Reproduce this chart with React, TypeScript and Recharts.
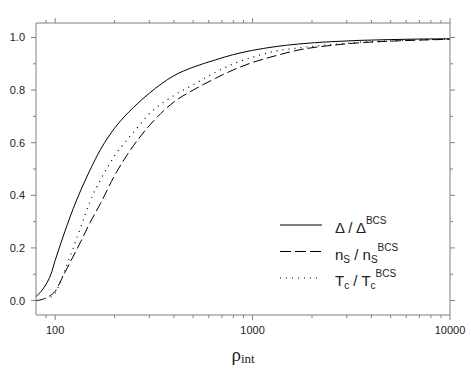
import { LineChart, Line, XAxis, YAxis, Legend, Label } from 'recharts';

const rho = [80, 85, 90, 95, 100, 110, 120, 135, 150, 170, 200, 250, 300, 400, 500, 650, 800, 1000, 1300, 1700, 2500, 3500, 5000, 7000, 10000];
const gap = [0.015, 0.035, 0.062, 0.098, 0.152, 0.245, 0.325, 0.42, 0.495, 0.575, 0.655, 0.735, 0.788, 0.855, 0.887, 0.915, 0.935, 0.951, 0.965, 0.975, 0.984, 0.989, 0.992, 0.994, 0.995];
const ns = [0.0, 0.003, 0.01, 0.02, 0.035, 0.095, 0.15, 0.225, 0.295, 0.37, 0.475, 0.59, 0.665, 0.755, 0.8, 0.845, 0.877, 0.905, 0.93, 0.952, 0.97, 0.98, 0.986, 0.99, 0.993];
const tc = [null, null, null, 0.012, 0.028, 0.1, 0.175, 0.28, 0.375, 0.46, 0.55, 0.64, 0.71, 0.78, 0.82, 0.868, 0.9, 0.925, 0.948, 0.96, 0.973, 0.982, 0.987, 0.991, 0.994];

const xTicks = [90, 100, 200, 300, 400, 500, 600, 700, 800, 900, 1000, 2000, 3000, 4000, 5000, 6000, 7000, 8000, 9000, 10000];
const xMajor = [100, 1000, 10000];
const yTicks = [0, 0.1, 0.2, 0.3, 0.4, 0.5, 0.6, 0.7, 0.8, 0.9, 1.0];

const data = rho.map((r, i) => ({ rho: r, gap: gap[i], ns: ns[i], tc: tc[i] }));

const AXIS = '#808080';
const TXT = '#222';
const SANS = '"Liberation Sans", Arial, sans-serif';

const isYMajor = (v: number) => Math.abs(v * 5 - Math.round(v * 5)) < 1e-6;

function XTick(props: any) {
  const { x, y, payload, dir, showLabel } = props;
  const major = xMajor.includes(payload.value);
  const len = major ? 5 : 3;
  return (
    <g>
      <line x1={x} x2={x} y1={y} y2={y + dir * len} stroke={AXIS} strokeWidth={1} />
      {showLabel && major && (
        <text x={x} y={y + 19} textAnchor="middle" fontSize={11} fontFamily={SANS} fill={TXT}>
          {payload.value}
        </text>
      )}
    </g>
  );
}

function YTick(props: any) {
  const { x, y, payload, dir, showLabel } = props;
  const major = isYMajor(payload.value);
  const len = major ? 5 : 3;
  return (
    <g>
      <line x1={x} x2={x + dir * len} y1={y} y2={y} stroke={AXIS} strokeWidth={1} />
      {showLabel && major && (
        <text x={x - 11} y={y + 4} textAnchor="end" fontSize={11} fontFamily={SANS} fill={TXT}>
          {payload.value.toFixed(1)}
        </text>
      )}
    </g>
  );
}

function XTitle(props: any) {
  const { viewBox } = props;
  const cx = viewBox.x + viewBox.width / 2;
  return (
    <text x={cx} y={361} textAnchor="middle" fontFamily='"Liberation Serif", "Times New Roman", serif' fill={TXT}>
      <tspan fontSize={19}>ρ</tspan>
      <tspan fontSize={13} dy={2}>int</tspan>
    </text>
  );
}

const legendRows = [
  { dash: undefined, main: 'Δ', sub: '' },
  { dash: '11 4', main: 'n', sub: 'S' },
  { dash: '1 5', main: 'T', sub: 'c' },
];

function LegendBox() {
  return (
    <svg width={170} height={90} style={{ overflow: 'visible' }}>
      {legendRows.map((r, i) => {
        const y = 13 + i * 26.5;
        return (
          <g key={i}>
            <line x1={0} x2={42} y1={y} y2={y} stroke="#000" strokeWidth={1} strokeDasharray={r.dash} />
            <text x={55} y={y + 8} fontSize={15} fontFamily={SANS} fill={TXT}>
              <tspan>{r.main}</tspan>
              {r.sub && <tspan fontSize={10} dy={3}>{r.sub}</tspan>}
              <tspan dy={r.sub ? -3 : 0}> / {r.main}</tspan>
              {r.sub && <tspan fontSize={10} dy={3}>{r.sub}</tspan>}
              <tspan fontSize={10} dy={r.sub ? -12 : -9}>BCS</tspan>
            </text>
          </g>
        );
      })}
    </svg>
  );
}

export default function App() {
  return (
    <div>
      <style>{'body{margin:0}'}</style>
      <LineChart width={471} height={376} data={data} margin={{ top: 22, right: 20, bottom: 0, left: 0 }}>
        <XAxis
          dataKey="rho"
          type="number"
          scale="log"
          domain={[80, 10000]}
          allowDataOverflow
          ticks={xTicks}
          tickSize={0}
          tickMargin={0}
          tickLine={false}
          height={61}
          stroke={AXIS}
          tick={<XTick dir={1} showLabel />}
          interval={0}
        >
          <Label content={<XTitle />} />
        </XAxis>
        <XAxis
          xAxisId="top"
          orientation="top"
          dataKey="rho"
          type="number"
          scale="log"
          domain={[80, 10000]}
          allowDataOverflow
          ticks={xTicks}
          tickSize={0}
          tickMargin={0}
          tickLine={false}
          height={1}
          stroke={AXIS}
          tick={<XTick dir={-1} />}
          interval={0}
        />
        <YAxis
          type="number"
          domain={[-0.055, 1.055]}
          allowDataOverflow
          ticks={yTicks}
          tickSize={0}
          tickMargin={0}
          tickLine={false}
          width={36}
          stroke={AXIS}
          tick={<YTick dir={-1} showLabel />}
          interval={0}
        />
        <YAxis
          yAxisId="right"
          orientation="right"
          type="number"
          domain={[-0.055, 1.055]}
          allowDataOverflow
          ticks={yTicks}
          tickSize={0}
          tickMargin={0}
          tickLine={false}
          width={1}
          stroke={AXIS}
          tick={<YTick dir={1} />}
          interval={0}
        />
        <Legend
          layout="horizontal"
          verticalAlign="middle"
          align="center"
          wrapperStyle={{ left: 280, top: 212, width: 170, height: 90 }}
          content={() => <LegendBox />}
        />
        <Line dataKey="gap" type="monotone" stroke="#000" strokeWidth={1} dot={false} isAnimationActive={false} />
        <Line dataKey="ns" type="monotone" stroke="#000" strokeWidth={1} strokeDasharray="10 4" dot={false} isAnimationActive={false} />
        <Line dataKey="tc" type="monotone" stroke="#000" strokeWidth={1.2} strokeDasharray="1 5" dot={false} isAnimationActive={false} />
      </LineChart>
    </div>
  );
}
